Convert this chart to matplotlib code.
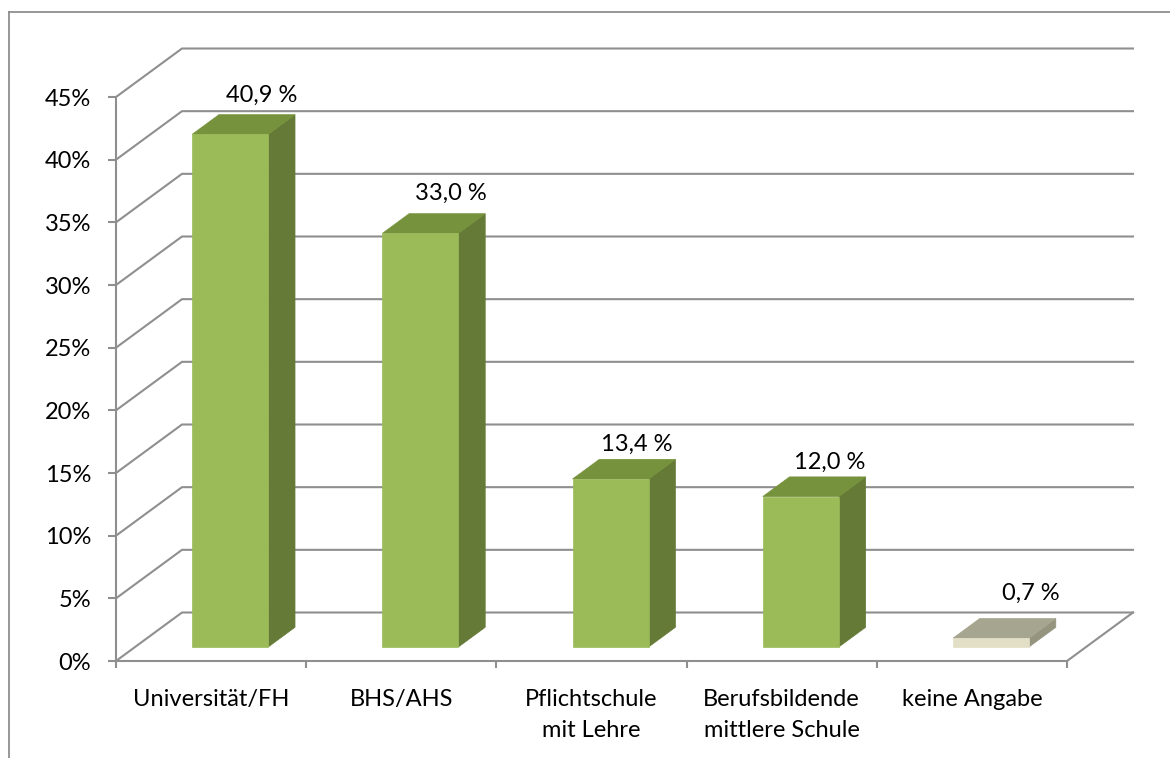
import matplotlib
matplotlib.use("Agg")
import matplotlib.pyplot as plt
from matplotlib.lines import Line2D
from matplotlib.patches import Polygon

plt.rcParams['font.family'] = ['Lato', 'DejaVu Sans']

categories = ["Universität/FH", "BHS/AHS", "Pflichtschule\nmit Lehre",
              "Berufsbildende\nmittlere Schule", "keine Angabe"]
values = [40.9, 33.0, 13.4, 12.0, 0.7]
y_ticks = [0, 5, 10, 15, 20, 25, 30, 35, 40, 45]

W, H = 1170, 758
GRAY = '#8f8f8f'
GREEN = ('#9bbb59', '#76923c', '#647a36')
BEIGE = ('#e3dfc6', '#a6a690', '#94947f')
FS = 17

# front plane of the fake 3d box, in pixels
left, right, bottom, top = 116, 1067, 661, 97
# depth of the box, in pixels
dx_px, dy_px = 66, 48.5

fig = plt.figure(figsize=(W / 100, H / 100), dpi=100, facecolor='white')
ax = fig.add_axes([left / W, 1 - bottom / H, (right - left) / W, (bottom - top) / H])
ax.set_xlim(0, len(categories))
ax.set_ylim(0, 45)
ax.patch.set_visible(False)

DX = dx_px / ((right - left) / len(categories))
DY = dy_px / ((bottom - top) / 45)


def proj(x, y, d):
    return x + d * DX, y + d * DY


# outer chart frame, only top and left show
fig.add_artist(Line2D([9 / W, 9 / W], [0, 1 - 11.5 / H], color=GRAY, lw=1.3))
fig.add_artist(Line2D([9 / W, 1], [1 - 11.5 / H, 1 - 11.5 / H], color=GRAY, lw=1.3))

# side wall and back wall gridlines
n = len(categories)
for t in y_ticks:
    bx, by = proj(0, t, 1)
    ax.plot([0, bx, n + DX], [t, by, by], color=GRAY, lw=1.5, clip_on=False, zorder=1,
            solid_joinstyle='miter')
# right edge of the floor
ax.plot([n, n + DX], [0, DY], color=GRAY, lw=1.5, clip_on=False, zorder=1)

# bars
bar_w = 0.4
d0, d1 = 0.29, 0.695
label_offsets = [(31, 9), (30, 10), (26, 5), (29, 4), (40, 15)]
for i, v in enumerate(values):
    front, top_c, side = BEIGE if i == 4 else GREEN
    x0 = i + 0.5 - bar_w / 2
    x1 = x0 + bar_w
    pts_front = [proj(x0, 0, d0), proj(x1, 0, d0), proj(x1, v, d0), proj(x0, v, d0)]
    pts_top = [proj(x0, v, d0), proj(x1, v, d0), proj(x1, v, d1), proj(x0, v, d1)]
    pts_side = [proj(x1, 0, d0), proj(x1, 0, d1), proj(x1, v, d1), proj(x1, v, d0)]
    for pts, c in [(pts_side, side), (pts_top, top_c), (pts_front, front)]:
        ax.add_patch(Polygon(pts, closed=True, facecolor=c, edgecolor=c, lw=0.5,
                             clip_on=False, zorder=3))
    cx, cy = proj(i + 0.5, v, d1)
    ax.annotate(f"{v:.1f} %".replace('.', ','), (i + 0.5 + d0 * DX, cy),
                xytext=label_offsets[i], textcoords='offset pixels',
                ha='center', va='bottom', fontsize=FS, color='black', zorder=5,
                annotation_clip=False)

# axes
ax.set_yticks(y_ticks)
ax.set_yticklabels([f"{t}%" for t in y_ticks])
ax.set_xticks(range(n + 1))
ax.set_xticklabels([])
ax.set_xticks([i + 0.5 for i in range(n)], minor=True)
ax.set_xticklabels(categories, minor=True, linespacing=1.58)
ax.tick_params(axis='y', length=6, width=1.5, color=GRAY, pad=12, labelsize=FS)
ax.tick_params(axis='x', which='major', length=5, width=1.5, color=GRAY)
ax.tick_params(axis='x', which='minor', length=0, pad=20, labelsize=FS)
for s in ['top', 'right']:
    ax.spines[s].set_visible(False)
for s in ['left', 'bottom']:
    ax.spines[s].set_color(GRAY)
    ax.spines[s].set_linewidth(1.5)

fig.savefig('out.png', dpi=100, facecolor='white')
